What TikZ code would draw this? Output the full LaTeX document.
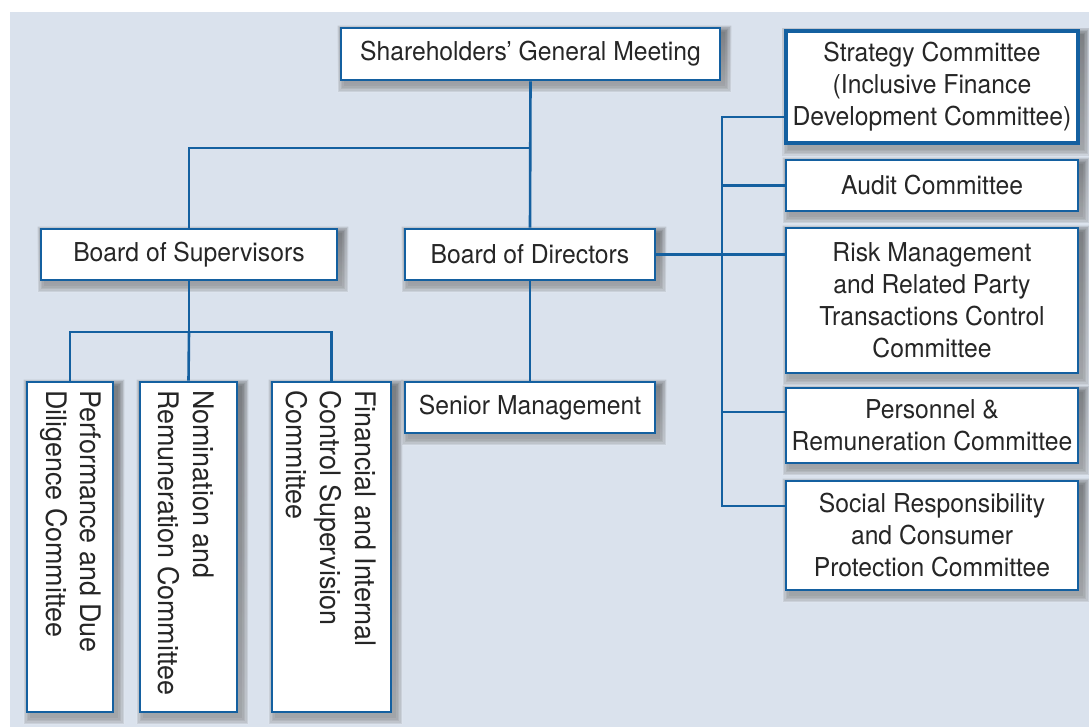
\documentclass[tikz,border=0pt]{standalone}
\usepackage{fontspec}
\setmainfont{TeX Gyre Heros}[FakeStretch=0.95]
\definecolor{bg}{HTML}{DAE2ED}
\definecolor{edge}{HTML}{1460A0}
\definecolor{ink}{HTML}{262626}
\definecolor{shade}{HTML}{2E6AA8}
\pgfdeclarelayer{panel}
\pgfdeclarelayer{shadow}
\pgfsetlayers{panel,shadow,main}
\begin{document}
\begin{tikzpicture}[x=1pt,y=-1pt,
  box/.style={draw=edge, line width=2.6pt, fill=white, inner sep=0pt, text=ink,
    align=center, font=\fontsize{26}{32}\selectfont},
  vtext/.style={inner sep=0pt, text=ink, align=left, rotate=-90, anchor=west,
    font=\fontsize{28.3}{34.5}\selectfont},
  link/.style={draw=edge, line width=2.6pt}]
% page and panel
\useasboundingbox (0,0) rectangle (1089,727);
\begin{pgfonlayer}{panel}
\fill[white] (0,0) rectangle (1089,727);
\fill[bg] (10,12) rectangle (1089,727);
\end{pgfonlayer}

% main bodies
\node[box, minimum width=379, minimum height=52] (sgm) at (530.5,54) {Shareholders’ General Meeting};
\node[box, minimum width=296, minimum height=51] (bos) at (189,254.5) {Board of Supervisors};
\node[box, minimum width=250, minimum height=51] (bod) at (530,254.5) {Board of Directors};
\node[box, minimum width=250, minimum height=51] (sm) at (530,407.5) {Senior Management};

% board committees
\node[box, line width=3.4pt, minimum width=292, minimum height=112] (strat) at (932,87)
  {Strategy Committee\\(Inclusive Finance\\Development Committee)};
\node[box, minimum width=292, minimum height=51] (audit) at (932,185.5) {Audit Committee};
\node[box, minimum width=292, minimum height=145] (risk) at (932,300.5)
  {Risk Management\\and Related Party\\Transactions Control\\Committee};
\node[box, minimum width=292, minimum height=75] (pers) at (932,425.5)
  {Personnel \&\\Remuneration Committee};
\node[box, minimum width=292, minimum height=109] (soc) at (932,535.5)
  {Social Responsibility\\and Consumer\\Protection Committee};

% supervisory committees (vertical text)
\node[box, minimum width=86, minimum height=330] (perf) at (70,547) {};
\node[box, minimum width=97, minimum height=330] (nom) at (188.5,547) {};
\node[box, minimum width=119, minimum height=330] (fin) at (331.5,547) {};
\node[vtext] (perft) at (71,390) {Performance and Due\\Diligence Committee};
\node[vtext] (nomt) at (186,390) {Nomination and\\Remuneration Committee};
\node[vtext] (fint) at (331,390) {Financial and Internal\\Control Supervision\\Committee};

% soft drop shadows behind every box
\begin{pgfonlayer}{shadow}
\foreach \n in {sgm,bos,bod,sm,strat,audit,risk,pers,soc,perf,nom,fin}{
  \foreach \r in {0,1.5,3,4.5,6}{
    \fill[shade, opacity=0.09]
      ([shift={(4-\r,5-\r)}]\n.north west) rectangle ([shift={(4+\r,5+\r)}]\n.south east);
  }
}
\end{pgfonlayer}

% junction points
\coordinate (j1) at (530,148);
\coordinate (j2) at (189,332);
\coordinate (bt) at (722,117);
\coordinate (bb) at (722,506);
\coordinate (bp) at (722,412);

% connectors
\draw[link] (sgm.south) -- (bod.north);
\draw[link] (j1) -| (bos.north);
\draw[link] (bos.south) -- (j2);
\draw[link] (perf.north) |- (j2) -| (fin.north);
\draw[link] (j2) -- (nom.north);
\draw[link] (bod.south) -- (sm.north);
\draw[link] (bod.east) -- (bod.east -| risk.west);
\draw[link] (strat.west |- bt) -- (bt) -- (bb) -- (soc.west |- bb);
\draw[link] (audit.west) -- (audit.west -| bt);
\draw[link] (bp) -- (pers.west |- bp);
\end{tikzpicture}
\end{document}
